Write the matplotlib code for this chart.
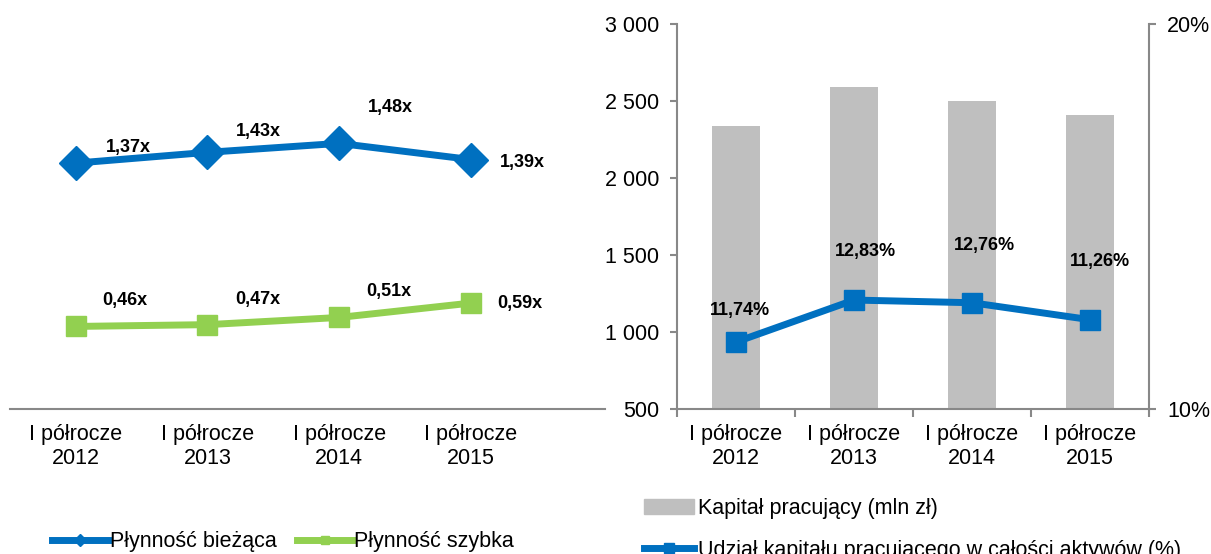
import numpy as np
import matplotlib.pyplot as plt
from matplotlib.lines import Line2D
from matplotlib.patches import Patch

plt.rcParams['font.family'] = ['Liberation Sans', 'DejaVu Sans']

# data
categories = ['I półrocze\n2012', 'I półrocze\n2013', 'I półrocze\n2014', 'I półrocze\n2015']
plyn_biezaca = [1.37, 1.43, 1.48, 1.39]
plyn_szybka = [0.46, 0.47, 0.51, 0.59]
kapital = [2338, 2591, 2500, 2409]
udzial = [11.74, 12.83, 12.76, 12.32]
udzial_labels = ['11,74%', '12,83%', '12,76%', '11,26%']

BLUE = '#0070C0'
GREEN = '#92D050'
GRAY_BAR = '#BFBFBF'
SPINE = '#888888'
TICK_FS = 15.5
LEG_FS = 15.5
LAB_FS = 13

fig = plt.figure(figsize=(12.11, 5.54), dpi=100)

W, H = 1211, 554
def axes_px(x0, y0, x1, y1):
  return fig.add_axes([x0 / W, 1 - y1 / H, (x1 - x0) / W, (y1 - y0) / H])

# ---- left chart
ax1 = axes_px(10, 24, 605, 409)
x = np.arange(len(categories))
ax1.plot(x, plyn_biezaca, color=BLUE, lw=5, marker='D', ms=17, zorder=3)
ax1.plot(x, plyn_szybka, color=GREEN, lw=5, marker='s', ms=15, zorder=3)
ax1.set_xlim(-0.5, 4.02)
ax1.set_ylim(0, 2.145)
for s in ['top', 'left', 'right']:
  ax1.spines[s].set_visible(False)
ax1.spines['bottom'].set_color(SPINE)
ax1.spines['bottom'].set_linewidth(1.5)
ax1.set_yticks([])
ax1.set_xticks(x)
ax1.set_xticklabels(categories, fontsize=TICK_FS, linespacing=1.2)
ax1.tick_params(axis='x', length=0, pad=11)

off_b = [(38, 11), (37, 15), (37, 26), (37, -2)]
off_g = [(35, 19), (36, 18), (36, 19), (35, 0)]
for i, v in enumerate(plyn_biezaca):
  ax1.annotate(f'{v:.2f}x'.replace('.', ','), (i, v), xytext=off_b[i],
               textcoords='offset points', ha='center', va='center',
               fontsize=LAB_FS, fontweight='bold')
for i, v in enumerate(plyn_szybka):
  ax1.annotate(f'{v:.2f}x'.replace('.', ','), (i, v), xytext=off_g[i],
               textcoords='offset points', ha='center', va='center',
               fontsize=LAB_FS, fontweight='bold')

h1 = [Line2D([], [], color=BLUE, lw=5, marker='D', ms=6),
      Line2D([], [], color=GREEN, lw=5, marker='s', ms=6)]
fig.legend(h1, ['Płynność bieżąca', 'Płynność szybka'], loc='center',
           bbox_to_anchor=(283 / W, 1 - 542 / H), ncol=2, frameon=False,
           fontsize=LEG_FS, handlelength=2.6, handletextpad=0.05,
           columnspacing=0.95)

# ---- right chart
ax2 = axes_px(677, 24, 1149, 409)
ax2.bar(x, kapital, width=0.4, color=GRAY_BAR, zorder=1)
ax2.set_xlim(-0.5, 3.5)
ax2.set_ylim(500, 3000)
ax2.set_yticks(np.arange(500, 3001, 500))
ax2.set_yticklabels([f'{v:,}'.replace(',', ' ') for v in range(500, 3001, 500)])
ax2.set_xticks(x)
ax2.set_xticklabels(categories, fontsize=TICK_FS, linespacing=1.2)
ax2.set_xticks(np.arange(-0.5, 3.6, 1), minor=True)
ax2.tick_params(axis='x', which='major', length=0, pad=11)
ax2.tick_params(axis='x', which='minor', length=6, color=SPINE, width=1.5)
ax2.tick_params(axis='y', labelsize=TICK_FS, length=5, color=SPINE, width=1.5, pad=8)
ax2.spines['top'].set_visible(False)
ax2.spines['right'].set_visible(False)
for s in ['left', 'bottom']:
  ax2.spines[s].set_color(SPINE)
  ax2.spines[s].set_linewidth(1.5)

ax3 = ax2.twinx()
ax3.plot(x, udzial, color=BLUE, lw=5, marker='s', ms=15, zorder=3)
ax3.set_ylim(10, 20)
ax3.set_yticks([10, 20])
ax3.set_yticklabels(['10%', '20%'])
ax3.tick_params(axis='y', labelsize=TICK_FS, length=5, color=SPINE, width=1.5, pad=8)
for s in ['top', 'left', 'bottom']:
  ax3.spines[s].set_visible(False)
ax3.spines['right'].set_color(SPINE)
ax3.spines['right'].set_linewidth(1.5)

off_u = [(3, 23), (8, 35), (9, 41), (7, 42)]
for i, v in enumerate(udzial):
  ax3.annotate(udzial_labels[i], (i, v), xytext=off_u[i],
               textcoords='offset points', ha='center', va='center',
               fontsize=LAB_FS, fontweight='bold')

h2 = [Patch(color=GRAY_BAR),
      Line2D([], [], color=BLUE, lw=5, marker='s', ms=7)]
fig.legend(h2, ['Kapitał pracujący (mln zł)',
                'Udział kapitału pracującego w całości aktywów (%)'],
           loc='upper left', bbox_to_anchor=(625 / W, 1 - 479 / H), ncol=1,
           frameon=False, fontsize=LEG_FS, handlelength=2.3, handletextpad=0.2,
           labelspacing=0.94)

plt.savefig('out.png', dpi=100)
